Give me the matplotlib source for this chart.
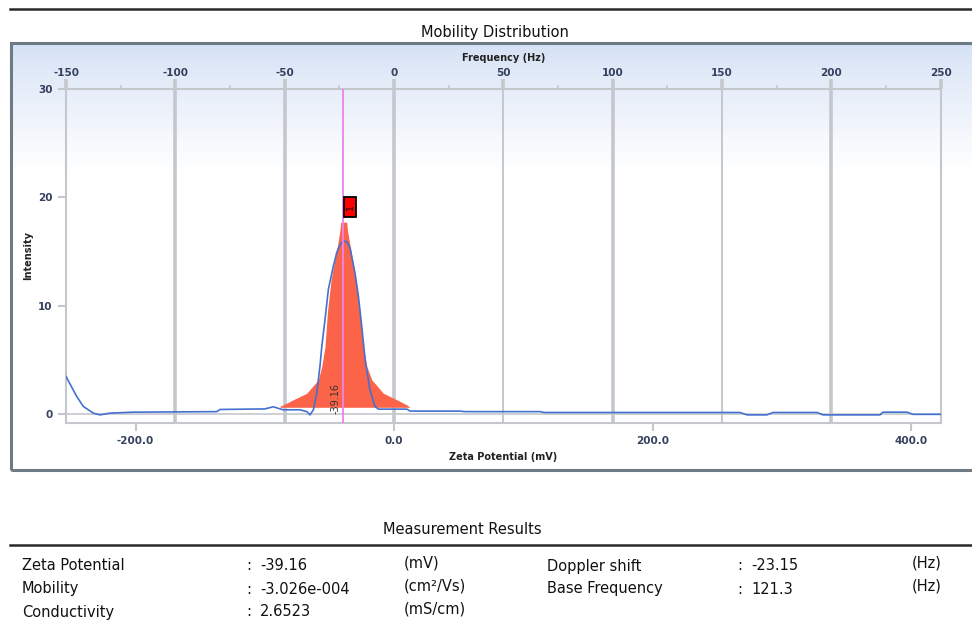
import matplotlib
matplotlib.use("Agg")
import matplotlib.pyplot as plt
import numpy as np
from matplotlib.patches import Rectangle
from matplotlib.lines import Line2D

# zeta potential (mV) vs intensity
blue_zeta = [-253.8, -245.5, -240.4, -232.6, -227.5, -219.8, -201.9, -137.2, -134.6,
             -100.0, -93.4, -85.9, -72.7, -67.5, -65.0, -62.4, -59.8, -57.3, -55.9,
             -53.4, -50.8, -47.0, -44.3, -41.8, -39.5, -36.5, -34.0, -30.2, -27.6,
             -25.0, -22.4, -18.6, -14.7, -12.1, 10.0, 12.4, 51.0, 55.0, 113.0, 116.0,
             267.7, 273.1, 288.6, 293.2, 327.3, 331.9, 376.0, 378.3, 396.9, 401.5, 423.0]
blue_int = [3.45, 1.6, 0.68, 0.06, -0.1, 0.06, 0.15, 0.2, 0.4,
            0.45, 0.65, 0.37, 0.37, 0.2, -0.1, 0.37, 1.9, 4.4, 6.2,
            8.7, 11.5, 13.6, 14.9, 15.6, 15.95, 15.9, 15.3, 13.0, 10.9,
            8.1, 5.0, 2.2, 0.68, 0.43, 0.43, 0.25, 0.25, 0.2, 0.2, 0.12,
            0.12, -0.1, -0.1, 0.12, 0.12, -0.1, -0.1, 0.15, 0.15, -0.05, -0.05]

red_zeta = [-88.2, -85.6, -77.9, -67.5, -58.5, -55.9, -53.4, -51.6, -48.7, -43.8,
            -41.8, -41.2, -36.6, -36.1, -34.0, -29.4, -26.3, -23.7, -21.1, -17.3,
            -8.3, 2.1, 9.8, 12.4]
red_int = [0.7, 0.83, 1.3, 1.9, 3.15, 4.4, 6.2, 9.3, 12.4, 15.5,
           17.0, 17.7, 17.7, 17.0, 15.5, 12.4, 9.3, 6.2, 4.4, 3.15,
           1.9, 1.3, 0.83, 0.6]
red_base = 0.6

peak_zeta = -39.16
peak_label = "1"
hz_per_mv = 23.15 / 39.16

freq_ticks = [-150, -100, -50, 0, 50, 100, 150, 200, 250]
freq_minor = [-125, -75, -25, 25, 75, 125, 175, 225]
grid_thick = [-100, -50, 0, 100, 200]
grid_thin = [50, 150]
zeta_ticks = [-200, 0, 200, 400]
y_ticks = [0, 10, 20, 30]

results_left = [("Zeta Potential", "-39.16", "(mV)"),
                ("Mobility", "-3.026e-004", "(cm\u00b2/Vs)"),
                ("Conductivity", "2.6523", "(mS/cm)")]
results_right = [("Doppler shift", "-23.15", "(Hz)"),
                 ("Base Frequency", "121.3", "(Hz)")]

W, H = 972, 625
tick_color = "#34405e"
grid_color = "#c4c8cd"
txt_size = 10.5


def fx(px):
    return px / W


def fy(py):
    return 1 - py / H


plt.rcParams['font.family'] = ['DejaVu Sans']
plt.rcParams['axes.unicode_minus'] = False
fig = plt.figure(figsize=(9.72, 6.25), dpi=100)

# panel background with gradient
bg = fig.add_axes([fx(11), fy(470), fx(972 - 11) + 0.01, (470 - 43) / H], zorder=0)
grad = np.ones((200, 2, 3))
top = np.array([0.83, 0.88, 0.96])
for i in range(200):
    t = min(i / 60.0, 1.0) ** 0.8
    grad[i, :, :] = top * (1 - t) + np.array([1, 1, 1]) * t
bg.imshow(grad, aspect="auto", extent=[0, 1, 0, 1])
bg.set_xlim(0, 1)
bg.set_ylim(0, 1)
bg.set_axis_off()
fig.patches.append(Rectangle((fx(11), fy(470)), fx(990), (470 - 43) / H, fill=False,
                             edgecolor="#6e7a84", lw=2.2, transform=fig.transFigure))

# lines at top and above results
fig.add_artist(Line2D([fx(10), 1], [fy(9), fy(9)], color="#2a2a2a", lw=1.8))
fig.add_artist(Line2D([fx(10), 1], [fy(545), fy(545)], color="#2a2a2a", lw=1.8))

fig.text(fx(495), fy(33), "Mobility Distribution", ha="center", va="center",
         fontsize=txt_size, color="#111111")

ax = fig.add_axes([fx(66), fy(423), fx(941 - 66), (423 - 89) / H], zorder=2)
ax.set_facecolor("none")
ax.set_xlim(-253.8, 423.2)
ax.set_ylim(-0.85, 30)

for f in grid_thick:
    ax.axvline(f / hz_per_mv, color=grid_color, lw=2.6, zorder=1)
for f in grid_thin:
    ax.axvline(f / hz_per_mv, color=grid_color, lw=1.4, zorder=1)
ax.axhline(0, color=grid_color, lw=1.2, zorder=1)

ax.fill_between(red_zeta, red_base, red_int, color="#fb6448", lw=0, zorder=3)
ax.plot(blue_zeta, blue_int, color="#4470d0", lw=1.2, zorder=4)
ax.axvline(peak_zeta, color="#ee82ee", lw=1.3, zorder=5)

# peak marker box
ax.add_patch(Rectangle((peak_zeta + 0.6, 18.2), 9.0, 1.85, facecolor="#ff0000",
                       edgecolor="black", lw=1.3, zorder=6))
ax.text(peak_zeta + 5.1, 19.12, peak_label, rotation=90, ha="center", va="center",
        fontsize=6.5, color="black", zorder=7)
ax.text(-45, 1.4, f"{peak_zeta:.2f}", rotation=90, ha="center", va="center",
        fontsize=7, color="#333333", zorder=6)

for s in ax.spines.values():
    s.set_color(grid_color)
    s.set_linewidth(1.5)

ax.set_xticks(zeta_ticks)
ax.set_xticklabels([f"{v:.1f}" for v in zeta_ticks])
ax.set_yticks(y_ticks)
ax.tick_params(axis="both", colors=grid_color, labelcolor=tick_color, labelsize=7.5,
               width=1.5, length=6, direction="out")
for lab in ax.get_xticklabels() + ax.get_yticklabels():
    lab.set_fontweight("bold")
ax.set_xlabel("Zeta Potential (mV)", fontsize=7, fontweight="bold", color="#222222",
              labelpad=4)
ax.set_ylabel("Intensity", fontsize=7, fontweight="bold", color="#222222", labelpad=4)

sec = ax.secondary_xaxis("top", functions=(lambda z: z * hz_per_mv,
                                            lambda f: f / hz_per_mv))
sec.set_xticks(freq_ticks)
sec.set_xticks(freq_minor, minor=True)
sec.spines["top"].set_visible(False)
sec.tick_params(axis="x", which="major", colors=grid_color, labelcolor=tick_color,
                labelsize=7.5, width=2.6, length=7, pad=1)
sec.tick_params(axis="x", which="minor", colors=grid_color, width=1.2, length=3)
for lab in sec.get_xticklabels():
    lab.set_fontweight("bold")
sec.set_xlabel("Frequency (Hz)", fontsize=7, fontweight="bold", color="#222222",
               labelpad=5)

# results table
fig.text(fx(462), fy(530), "Measurement Results", ha="center", va="center",
         fontsize=txt_size, color="#111111")
row_y = [566, 589, 612]
for (name, val, unit), py in zip(results_left, row_y):
    fig.text(fx(22), fy(py), name, ha="left", va="center", fontsize=txt_size, color="#111111")
    fig.text(fx(246), fy(py), ":", ha="left", va="center", fontsize=txt_size, color="#111111")
    fig.text(fx(260), fy(py), val, ha="left", va="center", fontsize=txt_size, color="#111111")
    fig.text(fx(404), fy(py - 3), unit, ha="left", va="center", fontsize=txt_size, color="#111111")
for (name, val, unit), py in zip(results_right, row_y):
    fig.text(fx(547), fy(py), name, ha="left", va="center", fontsize=txt_size, color="#111111")
    fig.text(fx(737), fy(py), ":", ha="left", va="center", fontsize=txt_size, color="#111111")
    fig.text(fx(751), fy(py), val, ha="left", va="center", fontsize=txt_size, color="#111111")
    fig.text(fx(912), fy(py - 3), unit, ha="left", va="center", fontsize=txt_size, color="#111111")

fig.savefig("out.png", dpi=100)
